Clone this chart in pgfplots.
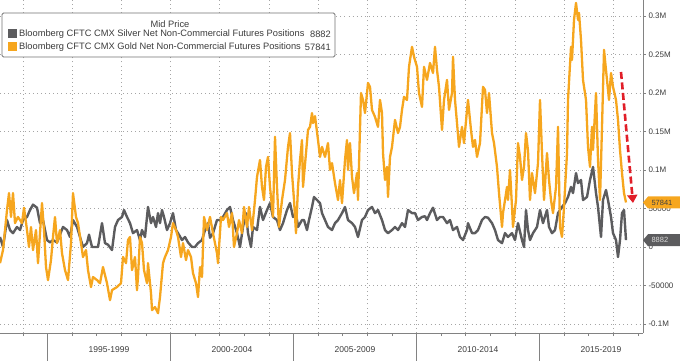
\documentclass[border=0pt]{standalone}
\usepackage{pgfplots}
\pgfplotsset{compat=1.18}
\usepackage{pgfplotstable}
\usepackage{fontspec}
\setmainfont{Liberation Sans}
\usetikzlibrary{arrows.meta}

\definecolor{goldc}{RGB}{246,166,30}
\definecolor{silverc}{RGB}{92,92,94}
\definecolor{gridc}{RGB}{165,165,165}
\definecolor{axc}{RGB}{130,130,130}
\definecolor{arrowred}{RGB}{225,30,40}
\definecolor{txt}{RGB}{60,60,60}

% px = horizontal position (converted to years below), v = thousands of contracts
\pgfplotstableread{
px v
0 -21
3 -4
7 48
9 70
11 39
13 70
15 31
18 39
22 31
24 51
27 22
29 0
31 26
33 -4
36 22
38 -21
42 57
44 22
46 -26
48 -43
51 -17
53 13
55 39
57 5
60 22
62 -8
65 -30
68 -43
71 5
73 70
76 39
78 31
81 5
83 -13
86 -4
88 -30
91 -52
93 -39
97 -43
100 -47
103 -26
107 -47
110 -69
112 -56
117 -52
121 -47
123 -13
126 -21
128 9
130 13
132 -30
135 -13
137 -56
138 -39
140 13
142 5
144 -30
147 -47
148 -21
151 -60
152 -82
155 -78
158 -86
160 -65
163 -21
165 -13
168 -4
171 13
173 31
176 22
178 13
181 -13
183 5
186 -17
188 -4
191 -13
193 -34
196 -47
198 -65
200 -26
202 -39
204 39
207 22
210 39
213 18
217 -8
218 -21
221 39
223 35
227 44
229 26
232 44
234 0
237 18
239 35
242 18
244 52
247 26
249 52
252 22
255 61
257 91
260 113
262 78
264 61
266 104
268 117
270 78
273 39
275 143
277 78
279 26
282 61
285 87
288 130
290 148
292 96
294 61
296 18
298 78
300 113
302 139
303 78
306 122
308 152
310 156
312 174
313 161
315 170
318 139
320 117
322 130
325 117
328 135
330 100
332 109
335 83
338 61
340 87
342 57
345 113
347 139
348 100
350 135
352 91
354 70
357 96
358 61
361 200
363 191
365 174
368 213
370 208
372 178
375 169
378 156
380 191
382 174
383 122
385 87
387 104
388 65
390 117
392 130
395 165
398 148
400 156
402 178
404 195
407 191
409 234
412 260
414 247
417 234
419 200
422 182
424 234
427 217
430 239
433 226
435 260
437 230
439 208
442 152
444 191
447 217
449 178
452 200
453 247
455 191
457 161
459 130
462 156
464 135
467 178
468 191
471 152
473 130
475 139
477 117
480 135
483 208
485 204
487 174
489 200
492 148
494 135
497 104
499 70
502 26
503 44
505 61
507 78
508 61
510 100
512 52
513 26
516 61
518 135
520 117
522 87
524 104
526 148
528 125
530 61
532 96
535 70
538 109
540 191
542 122
544 61
547 122
549 87
551 61
553 44
556 78
558 156
560 26
562 13
564 52
567 122
568 191
571 260
572 243
574 295
576 317
578 295
579 304
581 269
583 217
586 191
588 130
590 104
592 156
593 126
596 200
598 113
600 61
602 156
604 256
607 217
609 191
611 226
613 208
616 191
618 165
620 126
622 96
624 70
626 57.841
}\goldtab

\pgfplotstableread{
px v
0 13
3 0
7 35
10 22
13 18
17 26
20 22
23 35
27 39
30 48
33 55
37 51
40 31
43 35
47 9
50 6
53 9
57 6
60 16
63 26
67 22
70 13
73 35
77 26
80 13
83 0
87 5
89 16
92 0
95 0
98 0
102 31
105 5
108 3
112 -4
115 26
118 35
122 39
124 48
127 39
130 31
133 18
137 22
140 9
142 22
145 13
148 52
151 31
153 39
156 26
158 44
160 31
162 48
164 39
167 22
170 31
173 44
176 22
178 18
182 9
185 13
188 6
192 0
195 0
198 5
202 9
205 22
208 31
210 12
213 18
217 35
220 35
223 39
227 48
230 52
233 35
237 18
240 0
243 26
246 44
248 18
251 0
253 26
257 22
260 52
263 35
267 48
270 57
273 39
277 35
280 22
283 31
287 48
290 57
293 39
296 44
298 26
302 35
304 35
307 22
309 35
312 52
314 65
317 61
320 57
322 44
325 35
328 26
332 22
335 31
338 35
342 44
345 52
348 35
352 31
355 26
358 13
362 35
365 39
368 48
372 52
375 44
378 48
382 35
385 22
388 18
392 22
395 26
398 22
402 31
405 26
408 48
412 44
415 44
418 35
422 39
425 40
427 35
430 44
433 51
437 35
440 39
443 39
447 31
450 35
453 22
457 26
460 13
463 9
467 22
468 31
472 18
475 18
478 22
482 35
485 39
488 38
492 31
495 22
498 9
502 5
505 18
508 13
512 18
515 9
518 31
522 9
524 0
526 48
528 22
530 9
533 18
537 26
540 48
543 31
547 48
549 26
552 18
555 22
558 44
562 52
565 57
568 65
571 78
573 70
576 96
578 83
581 87
583 61
587 65
590 87
593 104
596 70
598 52
601 13
603 61
606 74
608 61
611 39
613 18
616 9
618 -13
620 9
622 44
624 48
626 8.882
}\silvertab

\begin{document}
\begin{tikzpicture}
\path[use as bounding box] (0bp,-28bp) rectangle (680bp,333bp);
\begin{axis}[
  at={(0bp,0bp)}, anchor=south west,
  width=643bp, height=333bp, scale only axis,
  xmin=1993.069, xmax=2019.207,
  ymin=-111.7, ymax=320.8,
  axis x line*=bottom, axis y line*=right,
  axis line style={draw=axc, line width=0.7bp, -},
  tick style={draw=axc, line width=0.6bp},
  tick align=outside,
  major tick length=3bp, minor tick length=3bp,
  xtick={1994,1996,...,2018}, xticklabels={},
  minor xtick={1993,1995,...,2019},
  extra x ticks={1995,2000,2005,2010,2015},
  extra x tick labels={},
  extra x tick style={grid=none, major tick length=28bp},
  xmajorgrids, ymajorgrids,
  grid style={draw=gridc, line width=0.8bp, dash pattern=on 0.9bp off 3.2bp},
  ytick={-100,-50,0,50,100,150,200,250,300},
  yticklabels={-0.1M,-50000,0,50000,0.1M,0.15M,0.2M,0.25M,0.3M},
  yticklabel style={font=\fontsize{8bp}{9bp}\selectfont, text=txt, xshift=-1bp},
  line join=round,
]
\addplot[silverc, line width=2.4bp] table[x expr=2000+(\thisrow{px}-170.5)/24.6, y=v] {\silvertab};
\addplot[goldc, line width=2.3bp] table[x expr=2000+(\thisrow{px}-170.5)/24.6, y=v] {\goldtab};
\end{axis}
% year band labels
\foreach \xx/\lab in {109/1995-1999, 232/2000-2004, 355/2005-2009, 478/2010-2014, 601/2015-2019}
  \node[font=\fontsize{8.5bp}{10bp}\selectfont, text=txt] at (\xx bp,-17bp) {\lab};
% red dashed arrow
\draw[arrowred, line width=2.6bp, dash pattern=on 7bp off 3.5bp, -{Triangle[width=10bp,length=8bp]}]
  (621bp,261bp) -- (633bp,130bp);
% value tags
\fill[goldc] (643bp,130.5bp) -- (648bp,136.5bp) -- (682bp,136.5bp) -- (682bp,124.5bp) -- (648bp,124.5bp) -- cycle;
\node[font=\fontsize{7.5bp}{9bp}\selectfont, text=black!75, anchor=west] at (648bp,130.5bp) {57841};
\fill[silverc] (643bp,92.8bp) -- (648bp,98.8bp) -- (682bp,98.8bp) -- (682bp,86.8bp) -- (648bp,86.8bp) -- cycle;
\node[font=\fontsize{7.5bp}{9bp}\selectfont, text=black!15, anchor=west] at (648bp,92.8bp) {8882};
% legend
\draw[draw=black!55, line width=0.8bp, fill=white, rounded corners=1.5bp] (2bp,320bp) rectangle (335bp,276bp);
\node[font=\fontsize{9.3bp}{11bp}\selectfont, text=txt] at (170bp,309bp) {Mid Price};
\fill[silverc] (8bp,294.5bp) rectangle (17bp,303.5bp);
\fill[goldc] (8bp,281.5bp) rectangle (17bp,290.5bp);
\node[font=\fontsize{9.3bp}{11bp}\selectfont, text=txt, anchor=west, inner sep=0pt] at (19bp,299bp) {Bloomberg CFTC CMX Silver Net Non-Commercial Futures Positions};
\node[font=\fontsize{9.3bp}{11bp}\selectfont, text=txt, anchor=east, inner sep=0pt] at (331bp,299bp) {8882};
\node[font=\fontsize{9.3bp}{11bp}\selectfont, text=txt, anchor=west, inner sep=0pt] at (19bp,286bp) {Bloomberg CFTC CMX Gold Net Non-Commercial Futures Positions};
\node[font=\fontsize{9.3bp}{11bp}\selectfont, text=txt, anchor=east, inner sep=0pt] at (331bp,286bp) {57841};
\end{tikzpicture}
\end{document}
